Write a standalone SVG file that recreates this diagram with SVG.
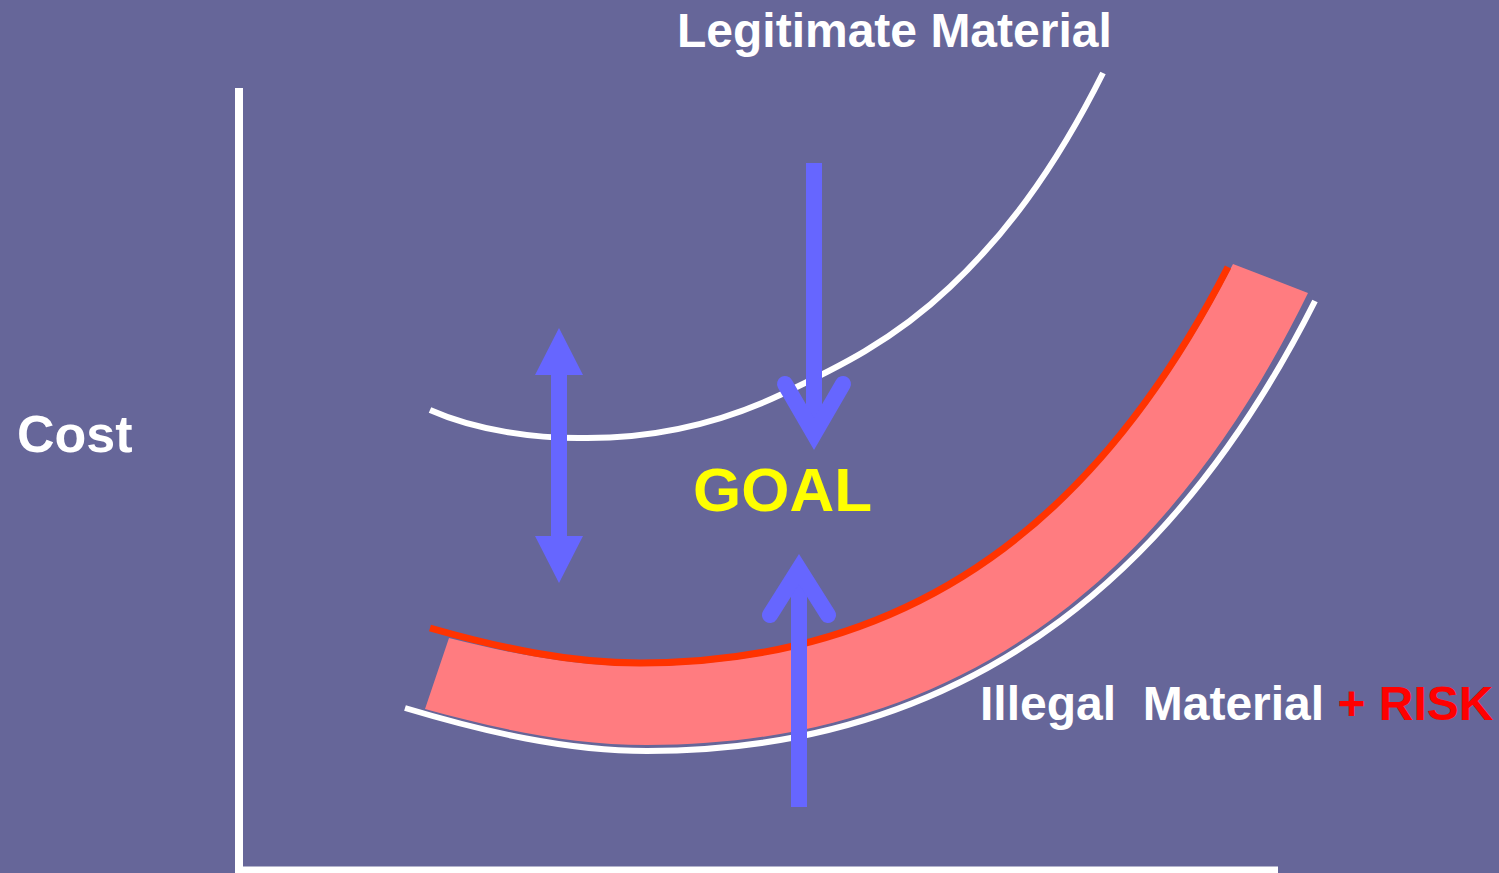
<svg xmlns="http://www.w3.org/2000/svg" width="1499" height="873" viewBox="0 0 1499 873">
<style>
.lbl{font-family:"Liberation Sans",Arial,sans-serif;font-weight:bold;}
.wline{fill:none;stroke:#FFFFFF;stroke-width:6;}
.arw{fill:none;stroke:#6666FF;stroke-width:16;}
</style>
<rect x="0" y="0" width="1499" height="873" fill="#666699"/>
<g id="axes">
<line x1="239" y1="88" x2="239" y2="873" stroke="#FFFFFF" stroke-width="8"/>
<line x1="235" y1="870" x2="1278" y2="870" stroke="#FFFFFF" stroke-width="7"/>
</g>
<g id="legitimate-curve">
<path class="wline" d="M430,410 C475,430 535,439 587,438 C651,438 716,425 780,395 C837,368 893,341 950,287 C1001,239 1052,175 1103,73"/>
</g>
<g id="illegal-band">
<path fill="#FF7C80" d="M449,638 C510,653 570,666 640,666 C940,666 1117,490 1233,264 L1308,293 C1183,549 985,745 647,745 C567,745 490,727 425,709 Z"/>
<path fill="none" stroke="#FF3300" stroke-width="7" d="M430,628 C500,648 570,663 640,663 C940,663 1113,490 1228,267"/>
<path class="wline" d="M405,708 C485,732 567,751 647,751 C987,751 1188,553 1315,301"/>
</g>
<g id="connectors">
<polygon fill="#6666FF" points="559,328 583,375 567,375 567,536 583,536 559,583 535,536 551,536 551,375 535,375"/>
<line class="arw" x1="814" y1="163" x2="814" y2="434"/>
<polyline class="arw" stroke-linecap="round" stroke-linejoin="miter" points="785,384 814,434 843,384"/>
<line class="arw" x1="799" y1="807" x2="799" y2="569"/>
<polyline class="arw" stroke-linecap="round" stroke-linejoin="miter" points="770,615 799,569 828,615"/>
</g>
<g id="label-legitimate"><text class="lbl" x="677" y="47" font-size="48" fill="#FFFFFF">Legitimate Material</text></g>
<g id="label-cost"><text class="lbl" x="17" y="452" font-size="52" fill="#FFFFFF">Cost</text></g>
<g id="label-goal"><text class="lbl" x="693" y="511" font-size="62" fill="#FFFF00">GOAL</text></g>
<g id="label-illegal"><text class="lbl" x="980" y="720" font-size="48" fill="#FFFFFF" style="white-space:pre">Illegal  Material <tspan fill="#FF0000">+ RISK</tspan></text></g>
</svg>
